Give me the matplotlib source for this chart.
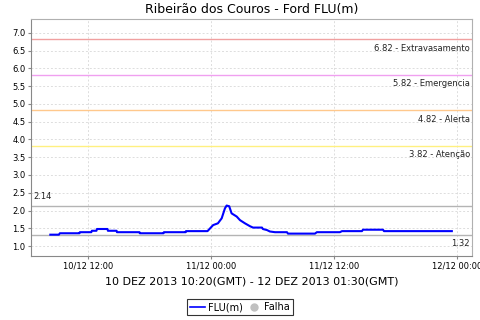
import matplotlib
matplotlib.use("Agg")
import matplotlib.pyplot as plt
import matplotlib.dates as mdates
from matplotlib.lines import Line2D
import pandas as pd

# readings (local time) and level in metres
times = [
    "2013-12-10 08:20", "2013-12-10 09:10", "2013-12-10 09:16", "2013-12-10 11:10",
    "2013-12-10 11:13", "2013-12-10 12:20", "2013-12-10 12:23", "2013-12-10 12:50",
    "2013-12-10 12:53", "2013-12-10 13:55", "2013-12-10 13:57", "2013-12-10 14:48",
    "2013-12-10 14:50", "2013-12-10 17:02", "2013-12-10 17:04", "2013-12-10 19:22",
    "2013-12-10 19:25", "2013-12-10 21:32", "2013-12-10 21:34", "2013-12-10 23:40",
    "2013-12-11 00:13", "2013-12-11 00:41", "2013-12-11 01:03", "2013-12-11 01:22",
    "2013-12-11 01:32", "2013-12-11 01:47", "2013-12-11 02:01", "2013-12-11 02:31",
    "2013-12-11 02:50", "2013-12-11 03:19", "2013-12-11 03:48", "2013-12-11 04:06",
    "2013-12-11 04:59", "2013-12-11 05:04", "2013-12-11 05:28", "2013-12-11 05:45",
    "2013-12-11 06:15", "2013-12-11 07:25", "2013-12-11 07:31", "2013-12-11 10:09",
    "2013-12-11 10:20", "2013-12-11 12:35", "2013-12-11 12:47", "2013-12-11 14:44",
    "2013-12-11 14:50", "2013-12-11 16:47", "2013-12-11 16:53", "2013-12-11 23:30",
]
levels = [
    1.32, 1.32, 1.36, 1.36,
    1.39, 1.39, 1.43, 1.43,
    1.48, 1.48, 1.43, 1.43,
    1.39, 1.39, 1.36, 1.36,
    1.39, 1.39, 1.42, 1.42,
    1.59, 1.64, 1.78, 2.06,
    2.14, 2.12, 1.92, 1.83,
    1.73, 1.64, 1.56, 1.52,
    1.52, 1.48, 1.45, 1.41,
    1.39, 1.39, 1.35, 1.35,
    1.39, 1.39, 1.42, 1.42,
    1.46, 1.46, 1.42, 1.42,
]

thresholds = [6.82, 5.82, 4.82, 3.82]
threshold_names = ["Extravasamento", "Emergencia", "Alerta", "Atenção"]
threshold_colors = ["#f0a0a0", "#f0a0f0", "#ffc88c", "#fff080"]

level_max = 2.14
level_min = 1.32

t = pd.to_datetime(times)

fig = plt.figure(figsize=(4.8, 3.2), dpi=100)
ax = fig.add_axes([0.0646, 0.2, 0.9187, 0.7406])

x_lo = pd.Timestamp("2013-12-10 06:27")
x_hi = pd.Timestamp("2013-12-12 01:28")
ax.set_xlim(x_lo, x_hi)
ax.set_ylim(0.72, 7.39)

ax.grid(True, color="#dddddd", linestyle=(0, (2, 2)), linewidth=0.7)
ax.set_axisbelow(True)

for v, name, col in zip(thresholds, threshold_names, threshold_colors):
    ax.axhline(v, color=col, linewidth=1.0, zorder=2)
    ax.text(0.995, v - 0.12, f"{v:.2f} - {name}", transform=ax.get_yaxis_transform(),
            ha="right", va="top", fontsize=6, color="#222222")

ax.axhline(level_max, color="#b4b4b4", linewidth=1.0, zorder=2)
ax.axhline(level_min, color="#b4b4b4", linewidth=1.0, zorder=2)
ax.text(0.006, level_max + 0.12, f"{level_max:.2f}", transform=ax.get_yaxis_transform(),
        ha="left", va="bottom", fontsize=6, color="#222222")
ax.text(0.995, level_min - 0.12, f"{level_min:.2f}", transform=ax.get_yaxis_transform(),
        ha="right", va="top", fontsize=6, color="#222222")

ax.plot(t, levels, color="#0000ff", linewidth=1.5, zorder=3)

ax.set_yticks([1.0 + 0.5 * i for i in range(13)])
ax.yaxis.set_major_formatter(plt.FuncFormatter(lambda v, p: f"{v:.1f}"))
ax.xaxis.set_major_locator(mdates.HourLocator(byhour=[0, 12]))
ax.xaxis.set_major_formatter(mdates.DateFormatter("%d/%m %H:%M"))
ax.tick_params(axis="both", labelsize=6, length=2, color="#888888", pad=2)

for side in ["left", "bottom"]:
    ax.spines[side].set_color("#888888")
for side in ["top", "right"]:
    ax.spines[side].set_color("#b0b0b0")

ax.set_title("Ribeirão dos Couros - Ford FLU(m)", fontsize=9, pad=4)
ax.set_xlabel("10 DEZ 2013 10:20(GMT) - 12 DEZ 2013 01:30(GMT)", fontsize=8, labelpad=4)

handles = [
    Line2D([], [], color="#0000ff", linewidth=1.2),
    Line2D([], [], color="#c0c0c0", marker="o", linestyle="none", markersize=5),
]
leg = fig.legend(handles, ["FLU(m)", "Falha"], loc="center", bbox_to_anchor=(0.5, 0.04),
                 ncol=2, fontsize=7, frameon=True, fancybox=False, handlelength=1.5,
                 handletextpad=0.3, columnspacing=0.4, borderpad=0.3)
leg.get_frame().set_edgecolor("black")
leg.get_frame().set_linewidth(0.8)

fig.savefig("out.png", dpi=100)
